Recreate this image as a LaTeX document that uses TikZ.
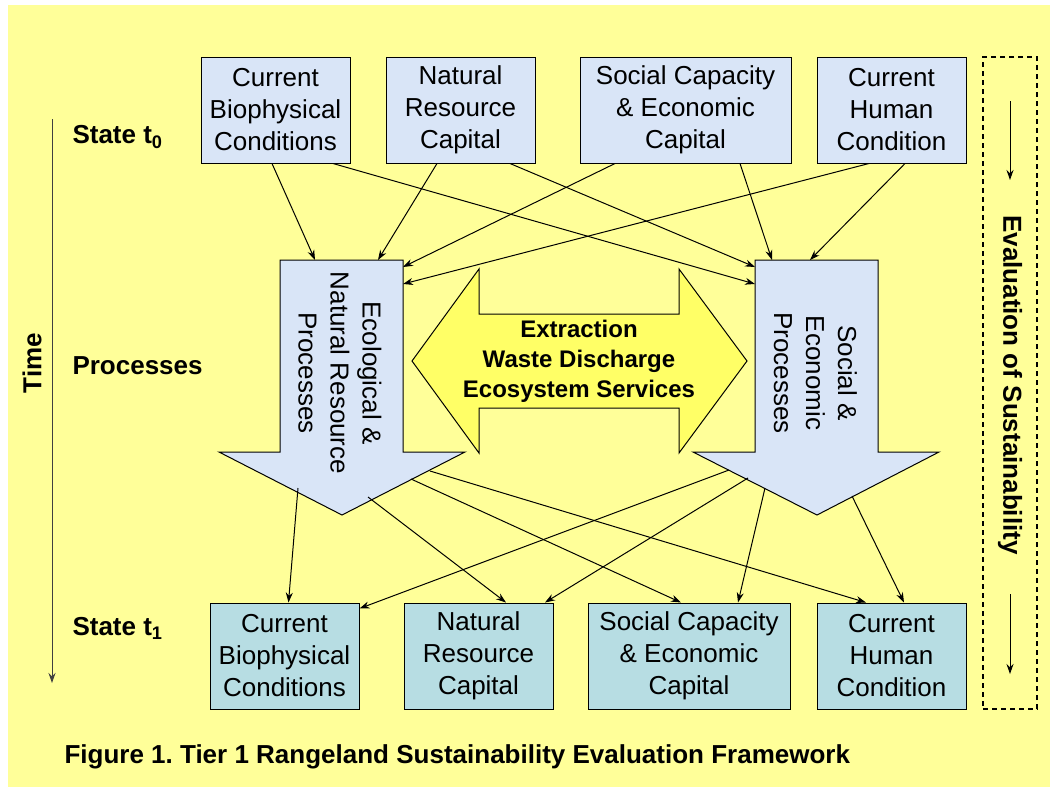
\documentclass[tikz,border=0pt]{standalone}
\usepackage{fontspec}
\setmainfont{Liberation Sans}
\usetikzlibrary{arrows.meta}
\definecolor{bgyellow}{HTML}{FFFF99}
\definecolor{flowyellow}{HTML}{FFFF66}
\definecolor{stateblue}{HTML}{D9E5F7}
\definecolor{stateteal}{HTML}{B7DDE3}
\frenchspacing

\begin{document}
\begin{tikzpicture}[x=1pt,y=-1pt,>={Stealth[length=10pt,width=7pt]},line width=1pt,
    top node/.style={draw,fill=stateblue,align=center,inner sep=0pt,minimum height=106,font=\fontsize{26}{32}\selectfont},
    bottom node/.style={top node,fill=stateteal},
    side label/.style={anchor=west,inner sep=0pt,font=\bfseries\fontsize{26}{32}\selectfont},
    proc text/.style={rotate=-90,align=center,font=\fontsize{26}{32}\selectfont}]
    \useasboundingbox (0,0) rectangle (1050,793);
    \fill[bgyellow] (8,5) rectangle (1050,787);

    % state t0
    \node[top node, minimum width=149] (t1) at (275.5,110) {Current\\Biophysical\\Conditions};
    \node[top node, minimum width=149] (t2) at (460.5,110) {Natural\\Resource\\Capital};
    \node[top node, minimum width=211] (t3) at (685.5,110) {Social Capacity\\\& Economic\\Capital};
    \node[top node, minimum width=149] (t4) at (891.5,110) {Current\\Human\\Condition};

    % state t1
    \node[bottom node, minimum width=149] (u1) at (284.5,656) {Current\\Biophysical\\Conditions};
    \node[bottom node, minimum width=149] (u2) at (478.5,656) {Natural\\Resource\\Capital};
    \node[bottom node, minimum width=202] (u3) at (689,656) {Social Capacity\\\& Economic\\Capital};
    \node[bottom node, minimum width=149] (u4) at (891.5,656) {Current\\Human\\Condition};

    % processes
    \draw[fill=stateblue] (280,260) -- (403,260) -- (403,452) -- (465,452) -- (342,515) -- (219,452) -- (280,452) -- cycle;
    \draw[fill=stateblue] (755,260) -- (878,260) -- (878,452) -- (939,452) -- (817,515) -- (693,452) -- (755,452) -- cycle;
    \draw[fill=flowyellow] (412,361) -- (479,269) -- (479,314) -- (679,314) -- (679,269) -- (747,361)
        -- (679,453) -- (679,408) -- (479,408) -- (479,453) -- cycle;
    \node[proc text] (eco) at (340,373) {Ecological \&\\Natural Resource\\Processes};
    \node[proc text] (soc) at (815.5,373) {Social \&\\Economic\\Processes};
    \node[align=center,font=\bfseries\fontsize{24}{30}\selectfont] (flow) at (579,361) {Extraction\\Waste Discharge\\Ecosystem Services};

    \coordinate (e1) at (315,260);
    \coordinate (e2) at (378,260);
    \coordinate (e3) at (403,267);
    \coordinate (e4) at (403,284);
    \coordinate (s1) at (755,284);
    \coordinate (s2) at (755,267);
    \coordinate (s3) at (772,260);
    \coordinate (s4) at (810,260);
    \coordinate (e5) at (298,488);
    \coordinate (e6) at (368,497);
    \coordinate (e7) at (411,479);
    \coordinate (e8) at (430,471);
    \coordinate (s5) at (729,470);
    \coordinate (s6) at (748,478);
    \coordinate (s7) at (765,488);
    \coordinate (s8) at (852,496);

    \path[->]
        ([xshift=-3.5pt]t1.south) edge (e1)
        ([xshift=57.5pt]t1.south) edge (s1)
        ([xshift=-23.5pt]t2.south) edge (e2)
        ([xshift=49.5pt]t2.south) edge (s2)
        ([xshift=-70.5pt]t3.south) edge (e3)
        ([xshift=54.5pt]t3.south) edge (s3)
        ([xshift=-22.5pt]t4.south) edge (e4)
        ([xshift=13.5pt]t4.south) edge (s4)
        (e5) edge ([xshift=4pt]u1.north)
        (e6) edge ([xshift=27.5pt]u2.north)
        (e7) edge ([xshift=-8pt]u3.north)
        (e8) edge ([xshift=-25.5pt]u4.north)
        (s5) edge ([yshift=-6pt]u1.north east)
        (s6) edge ([xshift=66.5pt]u2.north)
        (s7) edge ([xshift=49pt]u3.north)
        (s8) edge ([xshift=12.5pt]u4.north)
        ;

    % left side labels
    \node[side label] (st0) at (72,137) {State t\textsubscript{0}};
    \node[side label] (pr) at (72,366) {Processes};
    \node[side label] (st1) at (72,628) {State t\textsubscript{1}};
    \node[rotate=90,font=\bfseries\fontsize{26}{32}\selectfont] (time) at (32,363) {Time};
    \coordinate (tstart) at (52,119);
    \coordinate (tend) at (52,683);
    \draw[->,black!75] (tstart) -- (tend);

    % evaluation
    \node[draw,line width=1.2pt,dash pattern=on 5pt off 4pt,minimum width=54,minimum height=652,inner sep=0pt] (evalbox) at (1010,383) {};
    \node[rotate=-90,font=\bfseries\fontsize{26}{32}\selectfont] (eval) at (1010,385) {Evaluation of Sustainability};
    \coordinate (v1) at (1010,101);
    \coordinate (v2) at (1010,180);
    \coordinate (v3) at (1010,594);
    \coordinate (v4) at (1010,674);
    \draw[->] (v1) -- (v2);
    \draw[->] (v3) -- (v4);

    \node[side label] (cap) at (64,757) {Figure 1. Tier 1 Rangeland Sustainability Evaluation Framework};
\end{tikzpicture}
\end{document}
